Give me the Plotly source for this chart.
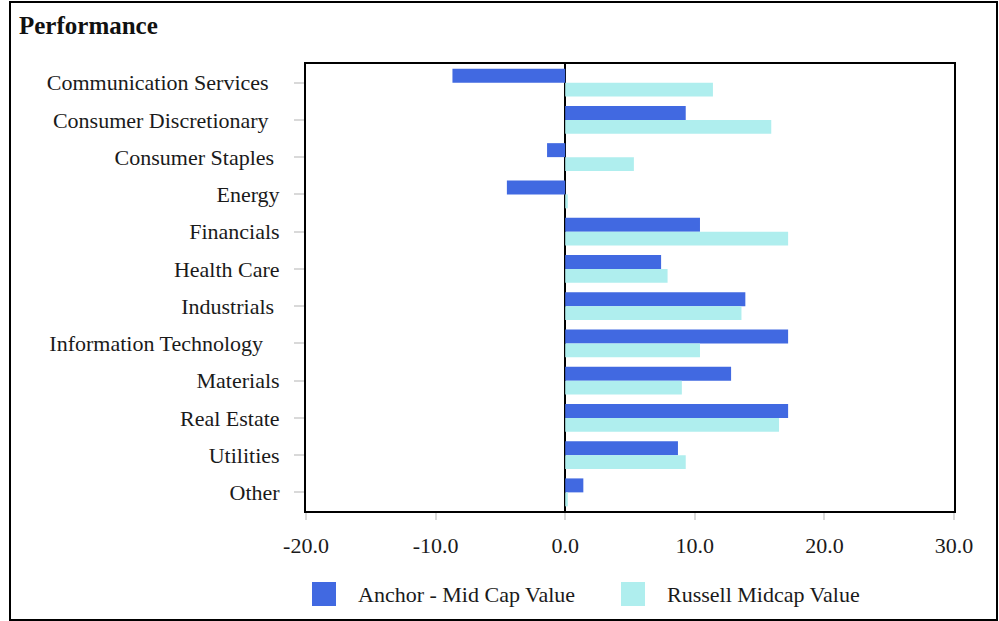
import plotly.graph_objects as go

categories = ["Communication Services", "Consumer Discretionary", "Consumer Staples", "Energy",
              "Financials", "Health Care", "Industrials", "Information Technology",
              "Materials", "Real Estate", "Utilities", "Other"]
tick_labels = ["Communication Services\u00a0\u00a0", "Consumer Discretionary\u00a0\u00a0",
               "Consumer Staples\u00a0", "Energy", "Financials", "Health Care",
               "Industrials\u00a0", "Information Technology\u00a0\u00a0\u00a0",
               "Materials", "Real Estate", "Utilities", "Other"]
series_names = ["Anchor - Mid Cap Value", "Russell Midcap Value"]
anchor = [-8.7, 9.3, -1.4, -4.5, 10.4, 7.4, 13.9, 17.2, 12.8, 17.2, 8.7, 1.4]
russell = [11.4, 15.9, 5.3, 0.2, 17.2, 7.9, 13.6, 10.4, 9.0, 16.5, 9.3, 0.2]
x_ticks = [-20, -10, 0, 10, 20, 30]
x_tick_labels = ["-20.0", "-10.0", "0.0", "10.0", "20.0", "30.0"]
colors = ["#4169E1", "#AFEEEE"]

FONT = "Liberation Serif"
TXT = "#1a1a1a"
fig = go.Figure()
for name, vals, col in zip(series_names, [anchor, russell], colors):
    fig.add_trace(go.Bar(y=categories, x=vals, name=name, orientation="h",
                         marker=dict(color=col, line=dict(width=0)), showlegend=False))

fig.update_layout(
    width=999, height=621,
    margin=dict(l=306, r=45, t=64, b=110),
    paper_bgcolor="white", plot_bgcolor="white",
    barmode="group", bargap=0.25, bargroupgap=0,
    font=dict(family=FONT, size=22, color=TXT),
    xaxis=dict(range=[-20, 30], tickvals=x_ticks, ticktext=x_tick_labels,
               tickfont=dict(family=FONT, size=22, color=TXT),
               showgrid=False, zeroline=True, zerolinecolor="black", zerolinewidth=2,
               showline=True, mirror=True, linecolor="black", linewidth=2,
               ticks="outside", ticklen=7, tickwidth=2, tickcolor="#d9d9d9",
               ticklabelstandoff=7),
    yaxis=dict(autorange="reversed", tickvals=categories, ticktext=tick_labels,
               tickfont=dict(family=FONT, size=22, color=TXT),
               showgrid=False, showline=True, mirror=True, linecolor="black", linewidth=2,
               ticks="outside", ticklen=10, tickwidth=2, tickcolor="#d9d9d9",
               ticklabelstandoff=10),
)

# figure border
fig.add_shape(type="rect", xref="paper", yref="paper",
              x0=(10 - 306) / 648, x1=(997 - 306) / 648,
              y0=(511 - 620) / 447, y1=(511 - 2) / 447,
              line=dict(color="black", width=2), fillcolor="rgba(0,0,0,0)", layer="above")
# title
fig.add_annotation(text="<b>Performance</b>", xref="paper", yref="paper",
                   x=(17 - 306) / 648, y=(511 - 25) / 447, xanchor="left", yanchor="middle",
                   showarrow=False, font=dict(family=FONT, size=25, color="#111"))
# manual legend
leg_x = [312, 621]
for name, col, px in zip(series_names, colors, leg_x):
    fig.add_shape(type="rect", xref="paper", yref="paper",
                  x0=(px - 306) / 648, x1=(px + 24 - 306) / 648,
                  y0=(511 - 606) / 447, y1=(511 - 582) / 447,
                  line=dict(width=0), fillcolor=col)
    fig.add_annotation(text=name, xref="paper", yref="paper",
                       x=(px + 44 - 306) / 648, y=(511 - 594) / 447,
                       xanchor="left", yanchor="middle", showarrow=False,
                       font=dict(family=FONT, size=22, color=TXT))

fig.write_html("out.html", config={"displayModeBar": False},
               post_script="document.body.style.margin='0';")
